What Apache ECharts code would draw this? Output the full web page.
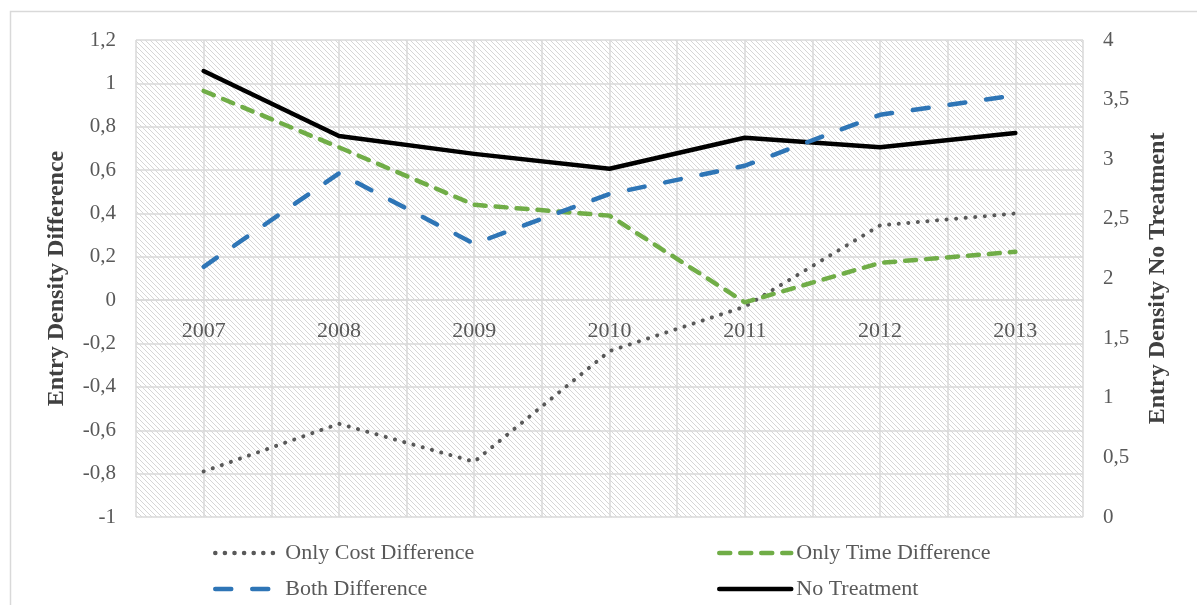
<!DOCTYPE html>
<html>
<head>
<meta charset="utf-8">
<style>
  html, body { margin: 0; padding: 0; background: #fff; }
  #chart { width: 1197px; height: 605px; }
</style>
<script src="https://cdn.jsdelivr.net/npm/echarts@6/dist/echarts.min.js"></script>
</head>
<body>
<div id="chart"></div>
<script>
// Years on the category axis
const years = ['2007', '2008', '2009', '2010', '2011', '2012', '2013'];

// Entry density differences (left axis)
const onlyCost = [-0.79, -0.57, -0.745, -0.235, -0.03, 0.345, 0.40];
const onlyTime = [0.965, 0.705, 0.44, 0.39, -0.01, 0.172, 0.223];
const bothDiff = [0.154, 0.585, 0.26, 0.49, 0.62, 0.855, 0.945];

// Entry density without treatment (right axis)
const noTreatment = [3.74, 3.195, 3.045, 2.92, 3.18, 3.10, 3.22];

const FONT = '"Liberation Serif", "Times New Roman", serif';
const GRID_COLOR = '#d9d9d9';
const commaDecimal = v => String(+v.toFixed(2)).replace('.', ',');

// Diagonal hatch tile for the plot background
const tile = document.createElement('canvas');
tile.width = 5; tile.height = 5;
const tc = tile.getContext('2d');
tc.fillStyle = '#ffffff';
tc.fillRect(0, 0, 5, 5);
tc.strokeStyle = '#d6d6d6';
tc.lineWidth = 1;
tc.beginPath();
tc.moveTo(-1, -1); tc.lineTo(6, 6);
tc.moveTo(-1, 4); tc.lineTo(1, 6);
tc.moveTo(4, -1); tc.lineTo(6, 1);
tc.stroke();

const chart = echarts.init(document.getElementById('chart'), null, { renderer: 'canvas' });

const legendText = { fontFamily: FONT, fontSize: 22, color: '#595959' };
const legendCommon = {
  orient: 'vertical',
  top: 542,
  padding: 0,
  itemHeight: 12,
  itemGap: 14,
  textStyle: legendText,
  itemStyle: { opacity: 0 },   // plain line icons, no marker
  lineStyle: { width: 4.5 }
};

chart.setOption({
  animation: false,
  backgroundColor: '#ffffff',
  textStyle: { fontFamily: FONT },
  graphic: [{
    type: 'rect', left: 8, top: 9, silent: true, z: -10,
    shape: { width: 1300, height: 800 },
    style: { fill: 'none', stroke: GRID_COLOR, lineWidth: 1.5 }
  }],
  grid: {
    left: 136, right: 114, top: 40, bottom: 88,
    show: true,
    borderWidth: 0,
    backgroundColor: { image: tile, repeat: 'repeat' }
  },
  legend: [Object.assign({}, legendCommon, {
    left: 213,
    itemWidth: 65, itemTextGap: 20,
    data: ['Only Cost Difference', 'Both Difference']
  }), Object.assign({}, legendCommon, {
    left: 717,
    itemWidth: 72, itemTextGap: 8,
    data: ['Only Time Difference', 'No Treatment']
  })],
  xAxis: [{
    type: 'category',
    data: years,
    boundaryGap: true,
    position: 'bottom',
    axisLine: { show: true, onZero: false, lineStyle: { color: GRID_COLOR, width: 1.5 } },
    axisTick: { show: false },
    splitLine: { show: false },
    axisLabel: { fontFamily: FONT, fontSize: 22, color: '#595959', margin: 20 }
  }, {
    // half-category gridlines
    type: 'value',
    min: 0, max: 14, interval: 1,
    position: 'bottom',
    axisLine: { show: false, onZero: false },
    axisTick: { show: false },
    axisLabel: { show: false },
    splitLine: { show: true, lineStyle: { color: GRID_COLOR, width: 1.5 } }
  }],
  yAxis: [{
    type: 'value',
    position: 'left',
    min: -1, max: 1.2, interval: 0.2,
    name: 'Entry Density Difference',
    nameLocation: 'middle',
    nameRotate: 90,
    nameGap: 67,
    nameTextStyle: { fontFamily: FONT, fontSize: 24, fontWeight: 'bold', color: '#404040' },
    axisLine: { show: false },
    axisTick: { show: false },
    axisLabel: { fontFamily: FONT, fontSize: 21, color: '#595959', margin: 20, formatter: commaDecimal },
    splitLine: { show: true, lineStyle: { color: GRID_COLOR, width: 1.5 } }
  }, {
    type: 'value',
    position: 'right',
    min: 0, max: 4, interval: 0.5,
    alignTicks: false,
    name: 'Entry Density No Treatment',
    nameLocation: 'middle',
    nameRotate: 90,
    nameGap: 63,
    nameTextStyle: { fontFamily: FONT, fontSize: 24, fontWeight: 'bold', color: '#404040' },
    axisLine: { show: false },
    axisTick: { show: false },
    axisLabel: { fontFamily: FONT, fontSize: 21, color: '#595959', margin: 20, formatter: commaDecimal },
    splitLine: { show: false }
  }],
  series: [{
    name: 'No Treatment',
    type: 'line',
    yAxisIndex: 1,
    data: noTreatment,
    symbol: 'none',
    z: 2,
    lineStyle: { color: '#000000', width: 4.5, cap: 'round', join: 'round' },
    itemStyle: { color: '#000000' }
  }, {
    name: 'Only Cost Difference',
    type: 'line',
    yAxisIndex: 0,
    data: onlyCost,
    symbol: 'none',
    z: 3,
    lineStyle: { color: '#595959', width: 4, type: [0.1, 9.5], cap: 'round' },
    itemStyle: { color: '#595959' }
  }, {
    name: 'Only Time Difference',
    type: 'line',
    yAxisIndex: 0,
    data: onlyTime,
    symbol: 'none',
    z: 4,
    lineStyle: { color: '#70ad47', width: 4.5, type: [11, 10], cap: 'round' },
    itemStyle: { color: '#70ad47' }
  }, {
    name: 'Both Difference',
    type: 'line',
    yAxisIndex: 0,
    data: bothDiff,
    symbol: 'none',
    z: 5,
    lineStyle: { color: '#2e75b6', width: 4.5, type: [16, 21], cap: 'round' },
    itemStyle: { color: '#2e75b6' }
  }]
});

// Place the year axis where the left scale crosses zero
const zeroY = chart.convertToPixel({ yAxisIndex: 0 }, 0);
const floorY = chart.convertToPixel({ yAxisIndex: 0 }, -1);
chart.setOption({ xAxis: [{ offset: zeroY - floorY }] });
</script>
</body>
</html>
